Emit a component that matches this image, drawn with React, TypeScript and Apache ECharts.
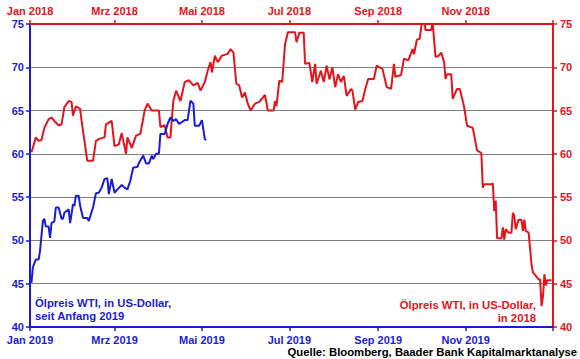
import React, { useEffect, useRef } from "react";
import * as echarts from "echarts";

const RED = "#e3141b";
const BLUE = "#1c1cd6";
const FONT = "'Liberation Sans', Arial, sans-serif";

// Tick positions and labels
const ticks2018 = ["2018-01-01", "2018-03-01", "2018-05-01", "2018-07-01", "2018-09-01", "2018-11-01", "2019-01-01"];
const labels2018 = ["Jan 2018", "Mrz 2018", "Mai 2018", "Jul 2018", "Sep 2018", "Nov 2018"];
const ticks2019 = ["2019-01-01", "2019-03-01", "2019-05-01", "2019-07-01", "2019-09-01", "2019-11-01", "2020-01-01"];
const labels2019 = ["Jan 2019", "Mrz 2019", "Mai 2019", "Jul 2019", "Sep 2019", "Nov 2019"];
const yTicks = [40, 45, 50, 55, 60, 65, 70, 75];

// WTI 2018 (red, top + right axis)
const redDates = [
  "2018-01-02", "2018-01-03", "2018-01-05", "2018-01-07", "2018-01-09", "2018-01-11", "2018-01-14", "2018-01-16",
  "2018-01-18", "2018-01-21", "2018-01-23", "2018-01-25", "2018-01-28", "2018-01-30", "2018-01-31", "2018-02-02",
  "2018-02-05", "2018-02-06", "2018-02-08", "2018-02-10", "2018-02-14", "2018-02-16", "2018-02-18", "2018-02-22",
  "2018-02-23", "2018-02-27", "2018-03-01", "2018-03-04", "2018-03-06", "2018-03-09", "2018-03-10", "2018-03-13",
  "2018-03-16", "2018-03-19", "2018-03-22", "2018-03-24", "2018-03-27", "2018-04-01", "2018-04-02", "2018-04-05",
  "2018-04-07", "2018-04-09", "2018-04-11", "2018-04-13", "2018-04-16", "2018-04-19", "2018-04-22", "2018-04-25",
  "2018-04-28", "2018-04-30", "2018-05-03", "2018-05-05", "2018-05-07", "2018-05-08", "2018-05-10", "2018-05-12",
  "2018-05-15", "2018-05-19", "2018-05-21", "2018-05-23", "2018-05-25", "2018-05-27", "2018-05-29", "2018-05-31",
  "2018-06-02", "2018-06-04", "2018-06-07", "2018-06-10", "2018-06-14", "2018-06-16", "2018-06-20", "2018-06-21",
  "2018-06-22", "2018-06-24", "2018-06-26", "2018-06-28", "2018-06-30", "2018-07-05", "2018-07-06", "2018-07-08",
  "2018-07-11", "2018-07-12", "2018-07-15", "2018-07-17", "2018-07-19", "2018-07-20", "2018-07-23", "2018-07-25",
  "2018-07-27", "2018-07-29", "2018-07-31", "2018-08-02", "2018-08-04", "2018-08-06", "2018-08-08", "2018-08-10",
  "2018-08-13", "2018-08-14", "2018-08-16", "2018-08-18", "2018-08-21", "2018-08-23", "2018-08-25", "2018-08-29",
  "2018-08-31", "2018-09-04", "2018-09-07", "2018-09-10", "2018-09-12", "2018-09-13", "2018-09-17", "2018-09-19",
  "2018-09-22", "2018-09-25", "2018-09-26", "2018-09-28", "2018-09-30", "2018-10-02", "2018-10-03", "2018-10-04",
  "2018-10-08", "2018-10-09", "2018-10-11", "2018-10-13", "2018-10-15", "2018-10-17", "2018-10-18", "2018-10-19",
  "2018-10-22", "2018-10-23", "2018-10-26", "2018-10-28", "2018-10-30", "2018-10-31", "2018-11-02", "2018-11-06",
  "2018-11-09", "2018-11-12", "2018-11-13", "2018-11-14", "2018-11-19", "2018-11-20", "2018-11-21", "2018-11-22",
  "2018-11-23", "2018-11-26", "2018-11-27", "2018-11-28", "2018-11-29", "2018-12-01", "2018-12-03", "2018-12-04",
  "2018-12-05", "2018-12-06", "2018-12-08", "2018-12-10", "2018-12-11", "2018-12-12", "2018-12-13", "2018-12-15",
  "2018-12-17", "2018-12-18", "2018-12-19", "2018-12-22", "2018-12-23", "2018-12-24", "2018-12-25", "2018-12-26",
  "2018-12-27", "2018-12-28", "2018-12-31",
];
const redValues = [
  60.2, 60.7, 61.9, 61.5, 61.6, 63.0, 64.0, 64.2,
  63.8, 63.3, 63.4, 65.4, 66.1, 66.0, 64.4, 65.5,
  65.2, 63.8, 61.5, 59.2, 59.2, 61.5, 61.7, 61.9,
  63.4, 63.8, 60.9, 61.1, 62.4, 60.0, 61.9, 60.7,
  62.1, 62.3, 65.0, 65.8, 65.0, 65.0, 63.1, 63.3,
  61.9, 61.9, 66.1, 67.3, 66.1, 68.3, 68.5, 67.9,
  68.2, 67.3, 68.3, 69.6, 70.6, 69.4, 71.35, 70.6,
  71.35, 71.55, 72.1, 71.7, 68.1, 67.9, 66.5, 67.1,
  65.8, 65.0, 65.8, 66.0, 66.8, 65.0, 65.0, 66.1,
  65.5, 68.45, 68.3, 72.7, 74.05, 74.05, 72.9, 74.0,
  74.0, 70.4, 70.5, 68.3, 70.4, 68.1, 69.6, 68.3,
  70.2, 68.6, 70.0, 67.7, 69.2, 68.3, 69.0, 66.7,
  67.5, 67.3, 65.1, 66.0, 66.1, 67.5, 68.65, 68.65,
  70.2, 69.8, 67.7, 67.5, 70.4, 68.9, 69.1, 71.0,
  70.8, 72.1, 71.5, 73.2, 73.3, 75.8, 76.4, 74.3,
  74.3, 75.2, 71.2, 71.3, 71.7, 70.6, 68.65, 69.2,
  69.2, 66.35, 67.5, 67.5, 66.1, 65.4, 63.25, 63.0,
  60.4, 60.1, 56.1, 56.5, 56.5, 56.6, 53.4, 54.6,
  50.25, 50.25, 51.5, 50.1, 51.3, 50.9, 50.9, 53.2,
  52.8, 51.3, 52.4, 52.4, 51.1, 52.4, 51.1, 50.9,
  47.25, 46.3, 46.1, 45.5, 45.5, 42.4, 43.5, 46.1,
  44.8, 45.4, 45.4,
];

// WTI since start of 2019 (blue, bottom + left axis)
const blueDates = [
  "2019-01-02", "2019-01-03", "2019-01-05", "2019-01-07", "2019-01-08", "2019-01-10", "2019-01-11", "2019-01-12",
  "2019-01-14", "2019-01-15", "2019-01-16", "2019-01-18", "2019-01-19", "2019-01-21", "2019-01-23", "2019-01-24",
  "2019-01-25", "2019-01-28", "2019-01-29", "2019-01-31", "2019-02-01", "2019-02-02", "2019-02-04", "2019-02-05",
  "2019-02-07", "2019-02-10", "2019-02-11", "2019-02-14", "2019-02-16", "2019-02-18", "2019-02-20", "2019-02-22",
  "2019-02-24", "2019-02-25", "2019-02-27", "2019-03-01", "2019-03-03", "2019-03-06", "2019-03-08", "2019-03-10",
  "2019-03-12", "2019-03-14", "2019-03-17", "2019-03-18", "2019-03-21", "2019-03-23", "2019-03-25", "2019-03-27",
  "2019-03-28", "2019-03-30", "2019-04-01", "2019-04-02", "2019-04-05", "2019-04-07", "2019-04-09", "2019-04-11",
  "2019-04-13", "2019-04-15", "2019-04-19", "2019-04-21", "2019-04-23", "2019-04-25", "2019-04-26", "2019-04-29",
  "2019-05-01", "2019-05-03", "2019-05-04",
];
const blueValues = [
  45.1, 46.85, 47.8, 47.8, 48.8, 52.25, 52.5, 51.6,
  51.6, 50.3, 52.0, 52.2, 53.8, 53.8, 52.5, 52.5,
  53.2, 53.6, 52.0, 54.2, 54.0, 55.15, 55.15, 54.0,
  52.6, 52.6, 52.25, 53.8, 55.45, 55.5, 56.1, 57.1,
  57.2, 55.35, 57.1, 55.5, 55.9, 56.4, 56.1, 55.9,
  56.9, 58.4, 58.5, 58.95, 59.8, 58.9, 58.9, 59.8,
  59.4, 60.0, 60.05, 62.3, 62.3, 63.45, 64.2, 63.8,
  64.0, 63.45, 63.9, 63.9, 66.15, 65.8, 63.25, 63.25,
  63.9, 61.7, 61.6,
];

const toTs = (s: string) => {
  const [y, m, d] = s.split("-").map(Number);
  return Date.UTC(y, m - 1, d);
};

function xAxisCfg(ticks: string[], labels: string[], pos: "top" | "bottom", color: string, margin: number) {
  const tickTs = ticks.map(toTs);
  const labelTs = tickTs.slice(0, labels.length);
  return {
    type: "value" as const,
    position: pos,
    min: tickTs[0],
    max: tickTs[tickTs.length - 1],
    axisLine: { show: true, onZero: false, lineStyle: { color, width: 2 } },
    axisTick: { show: true, customValues: tickTs, length: 4, lineStyle: { color, width: 1.5 } },
    axisLabel: {
      show: true,
      customValues: labelTs,
      color,
      fontFamily: FONT,
      fontWeight: "bold" as const,
      fontSize: 11,
      margin,
      hideOverlap: false,
      formatter: (v: number) => {
        let best = 0;
        let bd = Infinity;
        labelTs.forEach((t, i) => {
          const dd = Math.abs(t - v);
          if (dd < bd) { bd = dd; best = i; }
        });
        return labels[best];
      },
    },
    splitLine: { show: false },
  };
}

function yAxisCfg(pos: "left" | "right", color: string, split: boolean, margin: number) {
  return {
    type: "value" as const,
    position: pos,
    min: yTicks[0],
    max: yTicks[yTicks.length - 1],
    interval: 5,
    axisLine: { show: true, lineStyle: { color, width: 2 } },
    axisTick: { show: true, length: 4, lineStyle: { color, width: 1.5 } },
    axisLabel: {
      color,
      fontFamily: FONT,
      fontWeight: "bold" as const,
      fontSize: 11,
      margin,
    },
    splitLine: { show: split, lineStyle: { color: "#808080", width: 1 } },
  };
}

export default function App() {
  const ref = useRef<HTMLDivElement>(null);
  useEffect(() => {
    if (!ref.current) return;
    const chart = echarts.init(ref.current, undefined, { renderer: "svg" });
    const redData = redDates.map((d, i) => [toTs(d), redValues[i]]);
    const blueData = blueDates.map((d, i) => [toTs(d), blueValues[i]]);
    chart.setOption({
      animation: false,
      backgroundColor: "#ffffff",
      grid: { left: 30, right: 27, top: 24, bottom: 32, containLabel: false },
      xAxis: [
        xAxisCfg(ticks2018, labels2018, "top", RED, 8),
        xAxisCfg(ticks2019, labels2019, "bottom", BLUE, 7),
      ],
      yAxis: [yAxisCfg("left", BLUE, true, 6), yAxisCfg("right", RED, false, 7)],
      series: [
        {
          name: "Ölpreis WTI, in US-Dollar, in 2018",
          type: "line",
          xAxisIndex: 0,
          yAxisIndex: 1,
          data: redData,
          showSymbol: false,
          clip: true,
          lineStyle: { color: RED, width: 2 },
          itemStyle: { color: RED },
          z: 3,
        },
        {
          name: "Ölpreis WTI, in US-Dollar, seit Anfang 2019",
          type: "line",
          xAxisIndex: 1,
          yAxisIndex: 0,
          data: blueData,
          showSymbol: false,
          clip: true,
          lineStyle: { color: BLUE, width: 2 },
          itemStyle: { color: BLUE },
          z: 4,
        },
      ],
      graphic: [
        {
          type: "text",
          left: 35,
          top: 296,
          style: {
            text: "Ölpreis WTI, in US-Dollar,\nseit Anfang 2019",
            fill: BLUE,
            font: `bold 11.3px ${FONT}`,
            lineHeight: 13.5,
            textAlign: "left",
          },
        },
        {
          type: "text",
          right: 44,
          top: 298,
          style: {
            text: "Ölpreis WTI, in US-Dollar,\nin 2018",
            fill: RED,
            font: `bold 11.3px ${FONT}`,
            lineHeight: 13.5,
            textAlign: "right",
          },
        },
        {
          type: "text",
          right: 3,
          top: 346,
          style: {
            text: "Quelle: Bloomberg, Baader Bank Kapitalmarktanalyse",
            fill: "#000000",
            font: `bold 11.3px ${FONT}`,
            textAlign: "right",
          },
        },
      ],
    });
    return () => chart.dispose();
  }, []);
  return (
    <div
      ref={ref}
      style={{ position: "fixed", left: 0, top: 0, width: 580, height: 359, background: "#fff" }}
    />
  );
}
